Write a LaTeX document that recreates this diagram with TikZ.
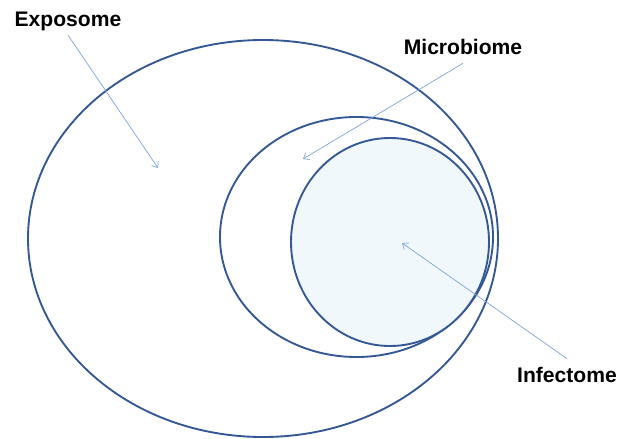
\documentclass[tikz,border=0pt]{standalone}
\usepackage{fontspec}
\setmainfont{Liberation Sans}
\usetikzlibrary{arrows.meta,positioning,shapes.geometric}
\definecolor{rim}{RGB}{52,88,148}
\definecolor{pointer}{RGB}{125,163,215}
\definecolor{core}{RGB}{240,248,252}
\tikzset{
  >={Straight Barb[length=1.5mm,width=2.4mm]},
  zone/.style={ellipse,draw=rim,line width=1.6pt,inner sep=0pt},
  tag/.style={font=\fontsize{18}{20}\selectfont\bfseries,text=black,inner sep=1pt,anchor=base},
  pointer/.style={->,draw=pointer,line width=0.6pt},
}

\begin{document}
\begin{tikzpicture}[x=0.3mm,y=-0.3mm]
  \useasboundingbox (0,0) rectangle (630,438);
  % nested regions
  \node[zone,minimum width=141mm,minimum height=119.1mm] (expo) at (263,238.5) {};
  \node[zone,minimum width=81.9mm,minimum height=72mm] (micro) at (356.5,237) {};
  \node[zone,fill=core,minimum width=59.4mm,minimum height=62.4mm] (infect) at (390,242) {};
  % labels
  \node[tag] (lexpo) at (68,26) {Exposome};
  \node[tag] (lmicro) at (463,54) {Microbiome};
  \node[tag] (linfect) at (567,382) {Infectome};
  % pointer ends
  \coordinate (pexpo) at (158,168);
  \coordinate (pmicro) at (303,159);
  \coordinate (pinfect) at (402,243);
  \draw[pointer] ([yshift=-1mm]lexpo.south) -- (pexpo);
  \draw[pointer] ([yshift=-2.3mm]lmicro.south) -- (pmicro);
  \draw[pointer] ([yshift=2mm]linfect.north) -- (pinfect);
\end{tikzpicture}
\end{document}
